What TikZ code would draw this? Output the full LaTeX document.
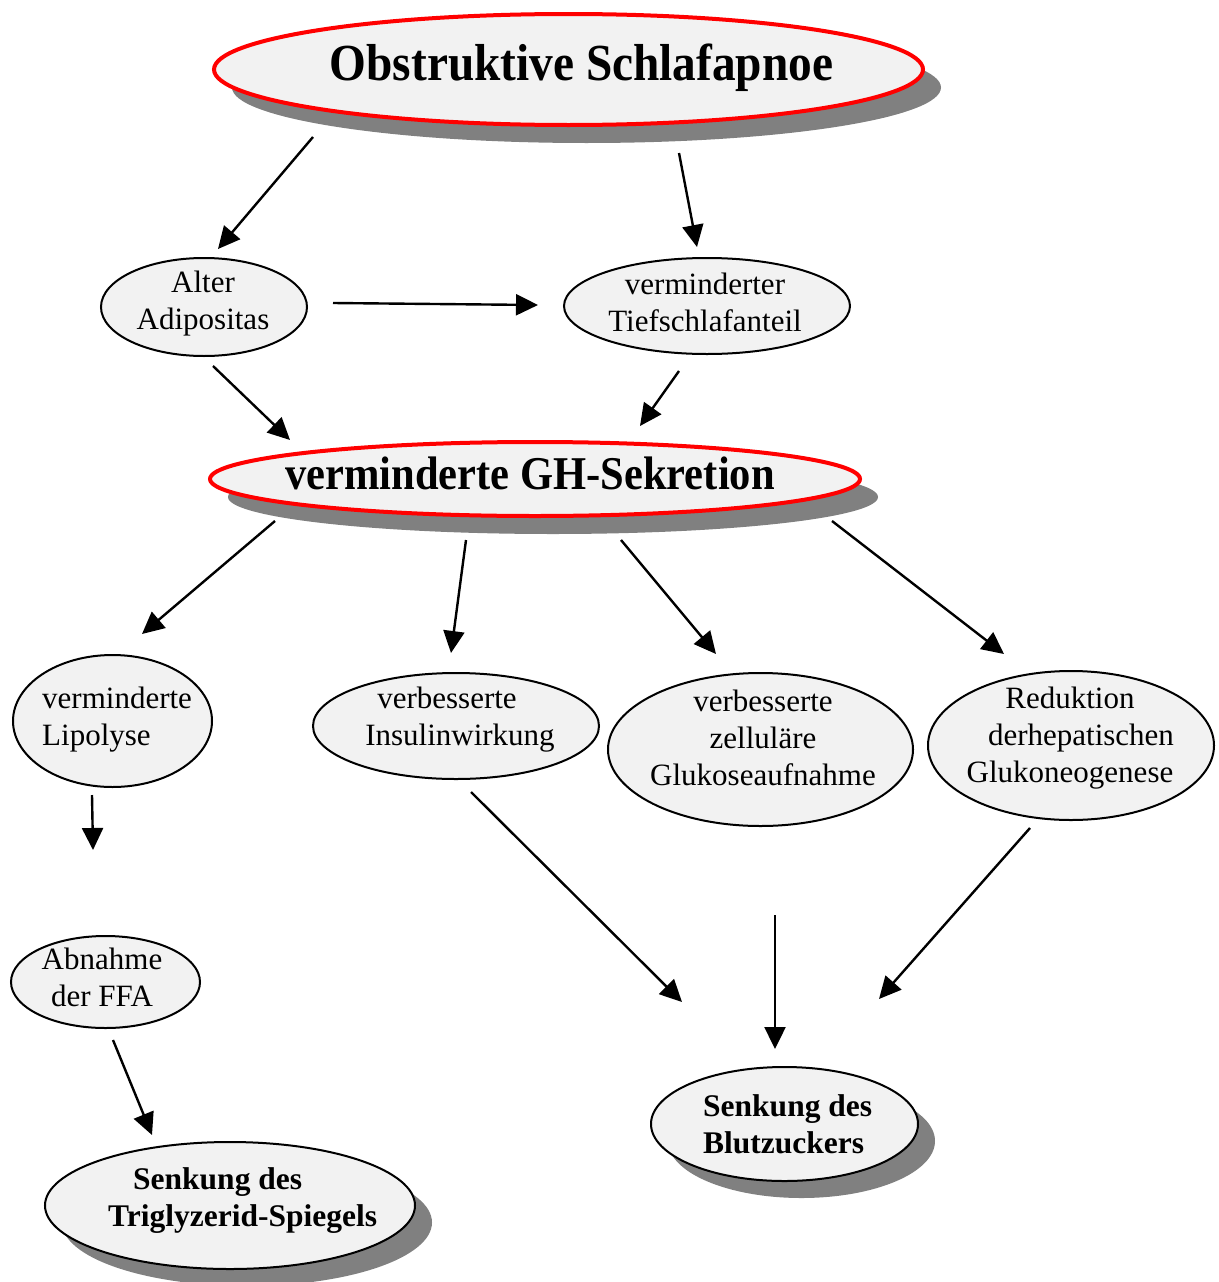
\documentclass[tikz,border=0pt]{standalone}
\usepackage{fontspec}
\setmainfont{Liberation Serif}
\usetikzlibrary{shapes.geometric,arrows.meta,shadows}
\definecolor{bubfill}{HTML}{F2F2F2}
\definecolor{shadowgray}{HTML}{808080}
\begin{document}
\begin{tikzpicture}[x=1pt,y=-1pt,
  bub/.style={ellipse,draw=black,line width=2pt,fill=bubfill,inner sep=0pt},
  redbub/.style={ellipse,draw=red,line width=4pt,fill=bubfill,inner sep=0pt},
  shad/.style={drop shadow={shadow xshift=#1,shadow yshift=-#1,fill=shadowgray,opacity=1}},
  txt/.style={font=\fontsize{31}{37}\selectfont,inner sep=0pt,align=center},
  btxt/.style={font=\fontsize{31.5}{37}\selectfont\bfseries,inner sep=0pt,align=left},
  arr/.style={line width=2.4pt,-{Triangle[length=22pt,width=21pt]}}]
\useasboundingbox (0,0) rectangle (1218,1282);

% ---- bubbles ----
\node[redbub,shad=18pt,minimum width=709pt,minimum height=111pt] (osa) at (568.5,69.5) {};
\node[anchor=base,font=\fontsize{52}{58}\selectfont\bfseries,inner sep=0pt] (osaT) at (581.5,80) {\scalebox{0.91}[1]{Obstruktive Schlafapnoe}};

\node[bub,minimum width=206pt,minimum height=98pt] (alt) at (204,307) {};
\node[txt] (altT) at (203,303.5) {Alter\\Adipositas};

\node[bub,minimum width=286pt,minimum height=96pt] (tief) at (707,306) {};
\node[txt] (tiefT) at (705,302) {verminderter\\Tiefschlafanteil};

\node[redbub,shad=18pt,minimum width=650pt,minimum height=74pt] (gh) at (535,479) {};
\node[anchor=base,font=\fontsize{47}{54}\selectfont\bfseries,inner sep=0pt] (ghT) at (530,489) {\scalebox{0.905}[1]{verminderte GH-Sekretion}};

\node[bub,minimum width=199pt,minimum height=132pt] (lip) at (112.5,721) {};
\node[txt,align=left,anchor=west] (lipT) at (42,719.5) {verminderte\\Lipolyse};

\node[bub,minimum width=286pt,minimum height=106pt] (ins) at (456,726) {};
\node[txt] (insT) at (460,719.5) {verbesserte\hspace*{26pt}\\Insulinwirkung};

\node[bub,minimum width=305pt,minimum height=153pt] (zell) at (760.5,749.5) {};
\node[txt] (zellT) at (763,737.5) {verbesserte\\zelluläre\\Glukoseaufnahme};

\node[bub,minimum width=286pt,minimum height=149pt] (red) at (1071,745.5) {};
\node[txt] (redT) at (1070,738) {Reduktion\\\hspace*{22pt}derhepatischen\\Glukoneogenese};

\node[bub,minimum width=189pt,minimum height=92pt] (ffa) at (105.5,982) {};
\node[txt] (ffaT) at (102,977) {Abnahme\\der FFA};

\node[bub,shad=17pt,minimum width=267pt,minimum height=114pt] (blut) at (784.5,1124) {};
\node[btxt,anchor=west] (blutT) at (703,1124.5) {Senkung des\\Blutzuckers};

\node[bub,shad=17pt,minimum width=370pt,minimum height=127pt] (trig) at (230,1205.5) {};
\node[btxt,anchor=west] (trigT) at (108,1200.5) {\hspace*{25pt}Senkung des\\Triglyzerid-Spiegels};

% ---- connector ends ----
\coordinate (a1s) at (313,137);  \coordinate (a1e) at (218,249);
\coordinate (a2s) at (679,153);  \coordinate (a2e) at (697,247);
\coordinate (a3s) at (333,303);  \coordinate (a3e) at (538,305);
\coordinate (a4s) at (213,366);  \coordinate (a4e) at (290,440);
\coordinate (a5s) at (679,371);  \coordinate (a5e) at (640,426);
\coordinate (a6s) at (275,521);  \coordinate (a6e) at (142,634);
\coordinate (a7s) at (466,540);  \coordinate (a7e) at (451,653);
\coordinate (a8s) at (621,540);  \coordinate (a8e) at (716,654);
\coordinate (a9s) at (832,521);  \coordinate (a9e) at (1004,654);
\coordinate (a10s) at (92,795);  \coordinate (a10e) at (93,850);
\coordinate (a11s) at (471,792); \coordinate (a11e) at (682,1002);
\coordinate (a12s) at (775,915); \coordinate (a12e) at (775,1049);
\coordinate (a13s) at (1030,828);\coordinate (a13e) at (879,999);
\coordinate (a14s) at (113,1040);\coordinate (a14e) at (152,1135);

\foreach \i in {1,...,14} \draw[arr] (a\i s) -- (a\i e);
\end{tikzpicture}
\end{document}
